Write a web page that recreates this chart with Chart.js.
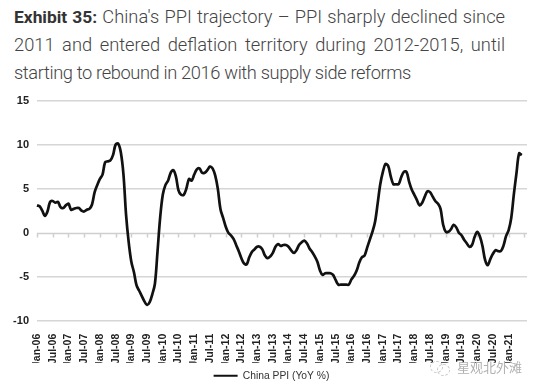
<!DOCTYPE html>
<html>
<head>
<meta charset="utf-8">
<script src="https://cdn.jsdelivr.net/npm/chart.js@4.4.1/dist/chart.umd.min.js"></script>
<style>
  html, body { margin: 0; padding: 0; background: #fff; }
  body { width: 540px; height: 391px; position: relative; overflow: hidden; }
  #title {
    position: absolute; left: 14px; top: 3px; width: 491px;
    font-family: Roboto, "Noto Sans", sans-serif; font-size: 18.3px; line-height: 28px;
    color: #444; font-weight: 300;
  }
  #title div { white-space: nowrap; text-align: justify; text-align-last: justify; }
  #title b { font-weight: 700; color: #333; font-size: 17.4px; }
  #wrap { position: absolute; left: 0; top: 86px; width: 540px; height: 305px; }
  #mark {
    position: absolute; left: 457px; top: 357px;
    font-family: "Noto Sans CJK SC", sans-serif; font-size: 13px; color: #b0b0b0;
  }
  .ring { position: absolute; border: 1px dashed #c4c4c4; border-radius: 50%; }
</style>
</head>
<body>
<div id="title">
  <div style="width:491px"><b>Exhibit 35:</b> China's PPI trajectory – PPI sharply declined since</div>
  <div style="width:491px">2011 and entered deflation territory during 2012-2015, until</div>
  <div style="width:397px">starting to rebound in 2016 with supply side reforms</div>
</div>
<div id="wrap"><canvas id="ppi"></canvas></div>
<div class="ring" style="left:430px;top:361px;width:11px;height:10px"></div>
<div class="ring" style="left:437px;top:364px;width:11px;height:10px"></div>
<div id="mark">星观北外滩</div>
<script>
// China PPI, YoY %, monthly Jan-2006 .. Jun-2021
const ppi2006 = [3.1, 3.0, 2.5, 1.9, 2.4, 3.5, 3.6, 3.4, 3.5, 2.9, 2.8, 3.1];
const ppi2007 = [3.3, 2.6, 2.7, 2.8, 2.8, 2.5, 2.4, 2.6, 2.7, 3.2, 4.6, 5.4];
const ppi2008 = [6.1, 6.6, 8.0, 8.1, 8.2, 8.8, 10.0, 10.1, 9.1, 6.6, 2.0, -1.1];
const ppi2009 = [-3.3, -4.5, -6.0, -6.6, -7.2, -7.8, -8.2, -7.9, -7.0, -5.8, -2.1, 1.7];
const ppi2010 = [4.3, 5.4, 5.9, 6.8, 7.1, 6.4, 4.8, 4.3, 4.3, 5.0, 6.1, 5.9];
const ppi2011 = [6.6, 7.2, 7.3, 6.8, 6.8, 7.1, 7.5, 7.3, 6.5, 5.0, 2.7, 1.7];
const ppi2012 = [0.7, 0.0, -0.3, -0.7, -1.4, -2.1, -2.9, -3.5, -3.6, -2.8, -2.2, -1.9];
const ppi2013 = [-1.6, -1.6, -1.9, -2.6, -2.9, -2.7, -2.3, -1.6, -1.3, -1.5, -1.4, -1.4];
const ppi2014 = [-1.6, -2.0, -2.3, -2.0, -1.4, -1.1, -0.9, -1.2, -1.8, -2.2, -2.7, -3.3];
const ppi2015 = [-4.3, -4.8, -4.6, -4.6, -4.6, -4.8, -5.4, -5.9, -5.9, -5.9, -5.9, -5.9];
const ppi2016 = [-5.3, -4.9, -4.3, -3.4, -2.8, -2.6, -1.7, -0.8, 0.1, 1.2, 3.3, 5.5];
const ppi2017 = [6.9, 7.8, 7.6, 6.4, 5.5, 5.5, 5.5, 6.3, 6.9, 6.9, 5.8, 4.9];
const ppi2018 = [4.3, 3.7, 3.1, 3.4, 4.1, 4.7, 4.6, 4.1, 3.6, 3.3, 2.7, 0.9];
const ppi2019 = [0.1, 0.1, 0.4, 0.9, 0.6, 0.0, -0.3, -0.8, -1.2, -1.6, -1.4, -0.5];
const ppi2020 = [0.1, -0.4, -1.5, -3.1, -3.7, -3.0, -2.4, -2.0, -2.1, -2.1, -1.5, -0.4];
const ppi2021 = [0.3, 1.7, 4.4, 6.8, 9.0, 8.8];

const ppiValues = [].concat(ppi2006, ppi2007, ppi2008, ppi2009, ppi2010, ppi2011, ppi2012,
  ppi2013, ppi2014, ppi2015, ppi2016, ppi2017, ppi2018, ppi2019, ppi2020, ppi2021);

const monthNames = ['Jan', 'Feb', 'Mar', 'Apr', 'May', 'Jun', 'Jul', 'Aug', 'Sep', 'Oct', 'Nov', 'Dec'];
const firstYear = 2006;
const lastYear = 2021, lastMonth = 8; // axis runs a little past the data
const lastTickLabel = 'Jan-21';
const yTicks = [-10, -5, 0, 5, 10, 15];

const labels = [];
for (let y = firstYear; y <= lastYear; y++) {
  for (let m = 0; m < 12; m++) {
    if (y === lastYear && m >= lastMonth) break;
    labels.push(monthNames[m] + '-' + String(y).slice(2));
  }
}
const lastTickIndex = labels.indexOf(lastTickLabel);

// tighten letters on a title line if its text is wider than its justified box
document.querySelectorAll('#title div').forEach(line => {
  let ls = 0;
  while (line.scrollWidth > line.clientWidth + 0.5 && ls > -1.5) {
    ls -= 0.05;
    line.style.letterSpacing = ls + 'px';
  }
});

// zero line with small tick marks, like the original axis
const zeroAxis = {
  id: 'zeroAxis',
  beforeDatasetsDraw(chart) {
    const { ctx, scales: { x, y } } = chart;
    const y0 = Math.round(y.getPixelForValue(0)) + 0.5;
    ctx.save();
    ctx.strokeStyle = '#cfcfcf';
    ctx.lineWidth = 1.5;
    ctx.beginPath();
    ctx.moveTo(chart.chartArea.left, y0);
    ctx.lineTo(chart.chartArea.right, y0);
    for (let i = 0; i <= lastTickIndex + 6; i += 6) {
      const px = Math.round(x.getPixelForValue(i)) + 0.5;
      ctx.moveTo(px, y0);
      ctx.lineTo(px, y0 + 4);
    }
    ctx.stroke();
    ctx.restore();
  }
};

// the legend sits a little right of the canvas centre in the original
const legendShift = {
  id: 'legendShift',
  afterLayout(chart) {
    chart.legend.left += 6;
    chart.legend.right += 6;
  }
};

const config = {
  type: 'line',
  data: {
    labels: labels,
    datasets: [{
      label: 'China PPI (YoY %)',
      data: ppiValues,
      borderColor: '#111',
      backgroundColor: '#111',
      borderWidth: 2.7,
      pointRadius: 0,
      tension: 0.35,
    }]
  },
  options: {
    responsive: true,
    maintainAspectRatio: false,
    animation: false,
    layout: { padding: { top: 4, right: 13, left: 4, bottom: 0 } },
    scales: {
      x: {
        grid: { display: false },
        border: { display: false },
        ticks: {
          autoSkip: false,
          minRotation: 90,
          maxRotation: 90,
          padding: 5,
          color: '#222',
          font: { family: 'Liberation Sans, Arial', size: 10.5, weight: 'bold' },
          callback: (v, i) => (i % 6 === 0 && i <= lastTickIndex ? labels[i] : null),
        },
        afterFit(scale) { scale.height = 42; }
      },
      y: {
        min: -10,
        max: 15,
        afterBuildTicks(scale) { scale.ticks = yTicks.map(v => ({ value: v })); },
        grid: {
          color: (c) => (c.tick && c.tick.value === 0 ? 'rgba(0,0,0,0)' : '#d6d6d6'),
          lineWidth: 1.5,
          drawTicks: false,
        },
        border: { display: false },
        ticks: {
          padding: 8,
          color: '#222',
          font: { family: 'Liberation Sans, Arial', size: 11, weight: 'bold' },
        },
        afterFit(scale) { scale.width = 33; }
      }
    },
    plugins: {
      legend: {
        position: 'bottom',
        labels: {
          boxWidth: 24,
          boxHeight: 2,
          padding: 8,
          color: '#333',
          font: { family: 'Liberation Sans, Arial', size: 10.3 },
          generateLabels(chart) {
            const items = Chart.defaults.plugins.legend.labels.generateLabels(chart);
            items.forEach(it => { it.lineWidth = 0; it.fillStyle = '#111'; });
            return items;
          }
        }
      },
      tooltip: { enabled: false }
    }
  },
  plugins: [zeroAxis, legendShift]
};

new Chart(document.getElementById('ppi'), config);
</script>
</body>
</html>
